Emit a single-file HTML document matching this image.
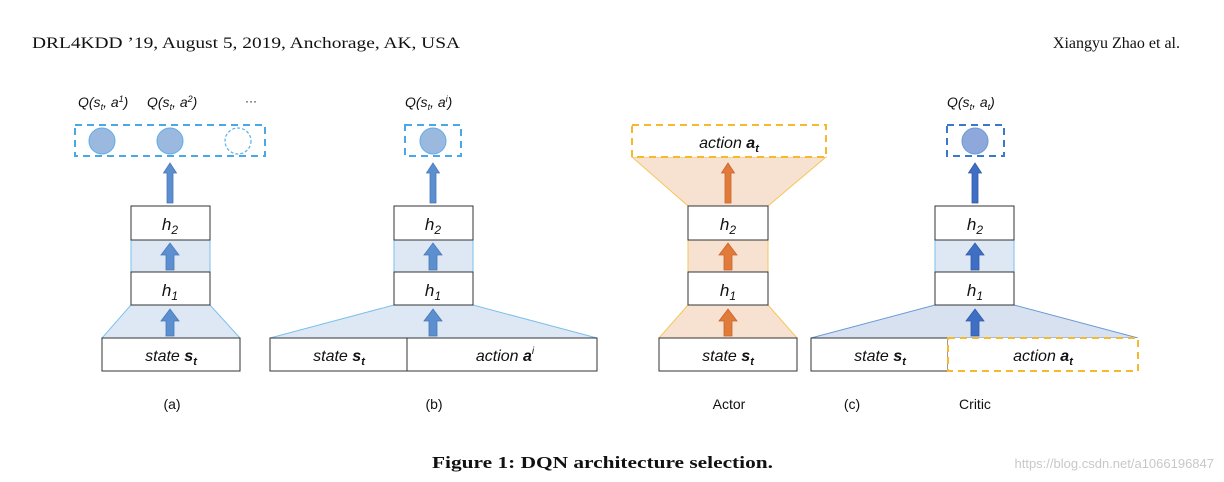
<!DOCTYPE html>
<html><head><meta charset="utf-8"><style>
html,body{margin:0;padding:0;background:#fff;}
svg{display:block;}
.t{font-family:"Liberation Sans",sans-serif;font-style:italic;fill:#111;}
.n{font-family:"Liberation Sans",sans-serif;font-style:normal;fill:#111;}
.s{font-family:"Liberation Serif",serif;fill:#111;}
</style></head><body>
<svg width="1224" height="482" viewBox="0 0 1224 482" xmlns="http://www.w3.org/2000/svg">
<defs>
<g id="arB"><path d="M-4,0 V-15 H-9 L0,-27 L9,-15 H4 V0 Z" fill="#5b8fd0" stroke="#4a78b8" stroke-width="0.8"/></g>
<g id="arO"><path d="M-4,0 V-15 H-9 L0,-27 L9,-15 H4 V0 Z" fill="#e07b3c" stroke="#c8652a" stroke-width="0.8"/></g>
<g id="arD"><path d="M-4,0 V-15 H-9 L0,-27 L9,-15 H4 V0 Z" fill="#3f6fc4" stroke="#2f5aa8" stroke-width="0.8"/></g>
<g id="upB"><path d="M-3,0 V-30 H-6.5 L0,-40 L6.5,-30 H3 V0 Z" fill="#5b8fd0" stroke="#4a78b8" stroke-width="0.8"/></g>
<g id="upO"><path d="M-3,0 V-30 H-6.5 L0,-40 L6.5,-30 H3 V0 Z" fill="#e07b3c" stroke="#c8652a" stroke-width="0.8"/></g>
<g id="upD"><path d="M-3,0 V-30 H-6.5 L0,-40 L6.5,-30 H3 V0 Z" fill="#3f6fc4" stroke="#2f5aa8" stroke-width="0.8"/></g>
</defs>
<text x="32" y="48" class="s" font-size="16" textLength="428" lengthAdjust="spacingAndGlyphs">DRL4KDD ’19, August 5, 2019, Anchorage, AK, USA</text>
<text x="1180" y="48" class="s" font-size="16" text-anchor="end">Xiangyu Zhao et al.</text>

<!-- (a) -->
<text x="78" y="107" class="t" font-size="14">Q(s<tspan font-size="9" dy="3">t</tspan><tspan dy="-3">, a</tspan><tspan font-size="9" dy="-5">1</tspan><tspan dy="5">)</tspan></text>
<text x="147" y="107" class="t" font-size="14">Q(s<tspan font-size="9" dy="3">t</tspan><tspan dy="-3">, a</tspan><tspan font-size="9" dy="-5">2</tspan><tspan dy="5">)</tspan></text>
<text x="245" y="105" class="n" font-size="12">···</text>
<rect x="75" y="125" width="190" height="31" fill="none" stroke="#4aa8e6" stroke-width="2" stroke-dasharray="7,5"/>
<circle cx="102" cy="141" r="13" fill="#9bb9df" stroke="#5aaee8" stroke-width="1"/>
<circle cx="170" cy="141" r="13" fill="#9bb9df" stroke="#5aaee8" stroke-width="1"/>
<circle cx="238" cy="141" r="13" fill="none" stroke="#5aaee8" stroke-width="1.2" stroke-dasharray="3,2"/>
<use href="#upB" x="170" y="203"/>
<rect x="131" y="240" width="79" height="32" fill="#dde8f4" stroke="#7cc0ee" stroke-width="1"/>
<polygon points="131,305 210,305 240,338 102,338" fill="#dde8f4" stroke="#7cc0ee" stroke-width="1"/>
<rect x="131" y="206" width="79" height="34" fill="#fff" stroke="#333"/>
<rect x="131" y="272" width="79" height="33" fill="#fff" stroke="#333"/>
<use href="#arB" x="170" y="270"/>
<use href="#arB" x="170" y="336"/>
<text x="170" y="230" class="t" font-size="17" text-anchor="middle">h<tspan font-size="12" dy="4">2</tspan></text>
<text x="170" y="296" class="t" font-size="17" text-anchor="middle">h<tspan font-size="12" dy="4">1</tspan></text>
<rect x="102" y="338" width="138" height="33" fill="#fff" stroke="#333"/>
<text x="171" y="361" class="t" font-size="16" text-anchor="middle">state <tspan font-weight="bold">s</tspan><tspan font-weight="bold" font-size="11" dy="4">t</tspan></text>
<text x="172" y="409" class="n" font-size="14" text-anchor="middle">(a)</text>

<!-- (b) -->
<text x="405" y="107" class="t" font-size="14">Q(s<tspan font-size="9" dy="3">t</tspan><tspan dy="-3">, a</tspan><tspan font-size="9" dy="-5">i</tspan><tspan dy="5">)</tspan></text>
<rect x="405" y="125" width="56" height="31" fill="none" stroke="#4aa8e6" stroke-width="2" stroke-dasharray="7,5"/>
<circle cx="433" cy="141" r="13" fill="#9bb9df" stroke="#5aaee8" stroke-width="1"/>
<use href="#upB" x="433" y="203"/>
<rect x="394" y="240" width="79" height="32" fill="#dde8f4" stroke="#7cc0ee"/>
<polygon points="394,305 473,305 597,338 270,338" fill="#dde8f4" stroke="#7cc0ee"/>
<rect x="394" y="206" width="79" height="34" fill="#fff" stroke="#333"/>
<rect x="394" y="272" width="79" height="33" fill="#fff" stroke="#333"/>
<use href="#arB" x="433" y="270"/>
<use href="#arB" x="433" y="336"/>
<text x="433" y="230" class="t" font-size="17" text-anchor="middle">h<tspan font-size="12" dy="4">2</tspan></text>
<text x="433" y="296" class="t" font-size="17" text-anchor="middle">h<tspan font-size="12" dy="4">1</tspan></text>
<rect x="270" y="338" width="137" height="33" fill="#fff" stroke="#333"/>
<rect x="407" y="338" width="190" height="33" fill="#fff" stroke="#333"/>
<text x="339" y="361" class="t" font-size="16" text-anchor="middle">state <tspan font-weight="bold">s</tspan><tspan font-weight="bold" font-size="11" dy="4">t</tspan></text>
<text x="505" y="361" class="t" font-size="16" text-anchor="middle">action <tspan font-weight="bold">a</tspan><tspan font-size="10" dy="-7">i</tspan></text>
<text x="434" y="409" class="n" font-size="14" text-anchor="middle">(b)</text>

<!-- Actor -->
<polygon points="632,157 826,157 768,206 688,206" fill="#f7e2d2" stroke="#f5c55a"/>
<rect x="688" y="240" width="80" height="32" fill="#f7e2d2" stroke="#f5c55a"/>
<polygon points="688,305 768,305 797,338 659,338" fill="#f7e2d2" stroke="#f5c55a"/>
<rect x="632" y="125" width="194" height="32" fill="#fff" stroke="#f5b92e" stroke-width="2" stroke-dasharray="7,5"/>
<text x="729" y="148" class="t" font-size="16" text-anchor="middle">action <tspan font-weight="bold">a</tspan><tspan font-weight="bold" font-size="11" dy="4">t</tspan></text>
<use href="#upO" x="728" y="203"/>
<rect x="688" y="206" width="80" height="34" fill="#fff" stroke="#333"/>
<rect x="688" y="272" width="80" height="33" fill="#fff" stroke="#333"/>
<use href="#arO" x="728" y="270"/>
<use href="#arO" x="728" y="336"/>
<text x="728" y="230" class="t" font-size="17" text-anchor="middle">h<tspan font-size="12" dy="4">2</tspan></text>
<text x="728" y="296" class="t" font-size="17" text-anchor="middle">h<tspan font-size="12" dy="4">1</tspan></text>
<rect x="659" y="338" width="138" height="33" fill="#fff" stroke="#333"/>
<text x="728" y="361" class="t" font-size="16" text-anchor="middle">state <tspan font-weight="bold">s</tspan><tspan font-weight="bold" font-size="11" dy="4">t</tspan></text>
<text x="729" y="409" class="n" font-size="14" text-anchor="middle">Actor</text>
<text x="852" y="409" class="n" font-size="14" text-anchor="middle">(c)</text>

<!-- Critic -->
<text x="947" y="107" class="t" font-size="14">Q(s<tspan font-size="9" dy="3">t</tspan><tspan dy="-3">, a</tspan><tspan font-size="9" dy="3">t</tspan><tspan dy="-3">)</tspan></text>
<rect x="947" y="125" width="57" height="31" fill="none" stroke="#3a78c8" stroke-width="2" stroke-dasharray="7,5"/>
<circle cx="975" cy="141" r="13" fill="#8fa8dc" stroke="#6a9ad8" stroke-width="1"/>
<use href="#upD" x="975" y="203"/>
<rect x="935" y="240" width="79" height="32" fill="#dde8f4" stroke="#7cc0ee"/>
<polygon points="935,305 1014,305 1138,338 811,338" fill="#d8e1f0" stroke="#6a9ad8"/>
<rect x="935" y="206" width="79" height="34" fill="#fff" stroke="#333"/>
<rect x="935" y="272" width="79" height="33" fill="#fff" stroke="#333"/>
<use href="#arD" x="975" y="270"/>
<use href="#arD" x="975" y="336"/>
<text x="975" y="230" class="t" font-size="17" text-anchor="middle">h<tspan font-size="12" dy="4">2</tspan></text>
<text x="975" y="296" class="t" font-size="17" text-anchor="middle">h<tspan font-size="12" dy="4">1</tspan></text>
<rect x="811" y="338" width="137" height="33" fill="#fff" stroke="#333"/>
<rect x="948" y="338" width="190" height="33" fill="#fff" stroke="#f5b92e" stroke-width="2" stroke-dasharray="7,5"/>
<text x="880" y="361" class="t" font-size="16" text-anchor="middle">state <tspan font-weight="bold">s</tspan><tspan font-weight="bold" font-size="11" dy="4">t</tspan></text>
<text x="1043" y="361" class="t" font-size="16" text-anchor="middle">action <tspan font-weight="bold">a</tspan><tspan font-weight="bold" font-size="11" dy="4">t</tspan></text>
<text x="975" y="409" class="n" font-size="14" text-anchor="middle">Critic</text>

<text x="432" y="468" class="s" font-size="17" font-weight="bold" textLength="341" lengthAdjust="spacingAndGlyphs">Figure 1: DQN architecture selection.</text>
<text x="1214" y="468" font-family="Liberation Sans,sans-serif" font-size="13" fill="#c8c8c8" text-anchor="end">https://blog.csdn.net/a1066196847</text>
</svg>
</body></html>
